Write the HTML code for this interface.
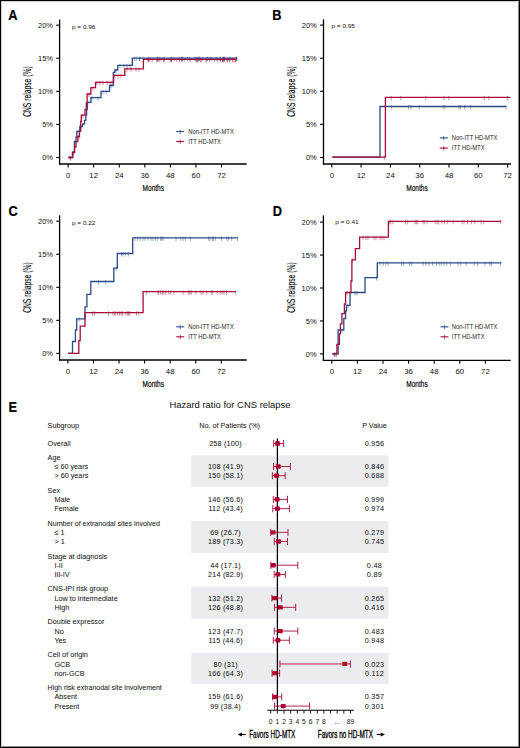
<!DOCTYPE html>
<html><head><meta charset="utf-8"><style>
html,body{margin:0;padding:0;background:#fff;}
body{width:520px;height:748px;overflow:hidden;position:relative;font-family:"Liberation Sans", sans-serif;}
.frame{position:absolute;left:0;top:0;width:518px;height:746px;border:1px solid #000;box-shadow:inset 1px 1px 0 #cfcfcf, inset -1px -1px 0 #8a8a8a;}
svg{position:absolute;left:0;top:0;}
svg text{font-family:"Liberation Sans", sans-serif;}
svg text.e{stroke:#111;stroke-width:0.03px;}
</style></head><body>
<svg width="520" height="748" viewBox="0 0 520 748">
<line x1="59.6" y1="19.6" x2="59.6" y2="164.6" stroke="#000" stroke-width="1.3"/>
<line x1="59" y1="164" x2="246.7" y2="164" stroke="#000" stroke-width="1.3"/>
<line x1="56.2" y1="157.5" x2="59.6" y2="157.5" stroke="#000" stroke-width="1.1"/>
<text x="53" y="160.2" font-size="7.5" text-anchor="end" fill="#111">0%</text>
<line x1="56.2" y1="124.42" x2="59.6" y2="124.42" stroke="#000" stroke-width="1.1"/>
<text x="53" y="127.12" font-size="7.5" text-anchor="end" fill="#111">5%</text>
<line x1="56.2" y1="91.34" x2="59.6" y2="91.34" stroke="#000" stroke-width="1.1"/>
<text x="53" y="94.04" font-size="7.5" text-anchor="end" fill="#111">10%</text>
<line x1="56.2" y1="58.26" x2="59.6" y2="58.26" stroke="#000" stroke-width="1.1"/>
<text x="53" y="60.96" font-size="7.5" text-anchor="end" fill="#111">15%</text>
<line x1="56.2" y1="25.18" x2="59.6" y2="25.18" stroke="#000" stroke-width="1.1"/>
<text x="53" y="27.88" font-size="7.5" text-anchor="end" fill="#111">20%</text>
<line x1="68.1" y1="164" x2="68.1" y2="167.5" stroke="#000" stroke-width="1.1"/>
<text x="68.1" y="177.6" font-size="7.8" text-anchor="middle" fill="#111">0</text>
<line x1="93.67" y1="164" x2="93.67" y2="167.5" stroke="#000" stroke-width="1.1"/>
<text x="93.67" y="177.6" font-size="7.8" text-anchor="middle" fill="#111">12</text>
<line x1="119.24" y1="164" x2="119.24" y2="167.5" stroke="#000" stroke-width="1.1"/>
<text x="119.24" y="177.6" font-size="7.8" text-anchor="middle" fill="#111">24</text>
<line x1="144.81" y1="164" x2="144.81" y2="167.5" stroke="#000" stroke-width="1.1"/>
<text x="144.81" y="177.6" font-size="7.8" text-anchor="middle" fill="#111">36</text>
<line x1="170.38" y1="164" x2="170.38" y2="167.5" stroke="#000" stroke-width="1.1"/>
<text x="170.38" y="177.6" font-size="7.8" text-anchor="middle" fill="#111">48</text>
<line x1="195.95" y1="164" x2="195.95" y2="167.5" stroke="#000" stroke-width="1.1"/>
<text x="195.95" y="177.6" font-size="7.8" text-anchor="middle" fill="#111">60</text>
<line x1="221.52" y1="164" x2="221.52" y2="167.5" stroke="#000" stroke-width="1.1"/>
<text x="221.52" y="177.6" font-size="7.8" text-anchor="middle" fill="#111">72</text>
<text x="153.3" y="190.7" font-size="9.9" text-anchor="middle" textLength="21.4" lengthAdjust="spacingAndGlyphs" stroke="#000" stroke-width="0.2" fill="#000">Months</text>
<text x="0" y="0" font-size="10.4" text-anchor="middle" fill="#000" stroke="#000" stroke-width="0.1" textLength="50.5" lengthAdjust="spacingAndGlyphs" transform="translate(31.2,91.6) rotate(-90)">CNS relapse (%)</text>
<text x="72" y="28.6" font-size="6.1" textLength="23.4" lengthAdjust="spacingAndGlyphs" fill="#111">p = 0.96</text>
<path d="M68.3,157.5H72.4V152.1H74.4V141.7H76V136.9H76.8V131.3H79.8V126.5H82.5V124H84.5V120.4H85.8V115.2H86.6V109.6H87.3V102.3H90.9V97.7H101V91.4H109.5V85.5H113.3V72.3H114.8V70H117.8V65.4H132.3V58.1H237" fill="none" stroke="#2a4b88" stroke-width="1.3"/>
<path d="M68.3,157.5H72.8V152.5H74.6V147H76V141.7H77.8V136.5H79.5V131.3H80.6V121.3H81.3V115.2H85V109.6H86.3V103.2H87.1V94H90.9V87.7H95.5V82.3H113.6V75.4H124.8V68.8H143.4V59.3H236.5" fill="none" stroke="#a90b38" stroke-width="1.3"/>
<path d="M70.5,156V160.5M75,140.2V144.7M78,129.8V134.3M81,125V129.5M88,100.8V105.3M92,96.2V100.7M98,96.2V100.7M103,89.9V94.4M106,89.9V94.4M111,84V88.5M116,68.5V73M120,63.9V68.4M124,63.9V68.4M127,63.9V68.4M130,63.9V68.4M134.37,56.6V61.1M136.23,56.6V61.1M139.66,56.6V61.1M139.82,56.6V61.1M143.14,56.6V61.1M148.66,56.6V61.1M157.37,56.6V61.1M157.75,56.6V61.1M159.97,56.6V61.1M164.33,56.6V61.1M171.48,56.6V61.1M174.08,56.6V61.1M179.24,56.6V61.1M181.91,56.6V61.1M182.17,56.6V61.1M182.54,56.6V61.1M187.41,56.6V61.1M189.6,56.6V61.1M194.47,56.6V61.1M195.81,56.6V61.1M198.07,56.6V61.1M199.03,56.6V61.1M199.46,56.6V61.1M202.83,56.6V61.1M207.27,56.6V61.1M207.76,56.6V61.1M210.09,56.6V61.1M211.86,56.6V61.1M216.29,56.6V61.1M219.99,56.6V61.1M220.1,56.6V61.1M223.01,56.6V61.1M223.28,56.6V61.1M224.4,56.6V61.1M224.4,56.6V61.1M228.79,56.6V61.1M230.3,56.6V61.1M236.55,56.6V61.1M237,56.6V61.1" fill="none" stroke="#2a4b88" stroke-width="0.6" opacity="0.8"/>
<path d="M70,156V160.5M73.5,151V155.5M79,135V139.5M83,113.7V118.2M89,92.5V97M93,86.2V90.7M97,80.8V85.3M100,80.8V85.3M103,80.8V85.3M107,80.8V85.3M110,80.8V85.3M112,80.8V85.3M115,73.9V78.4M118,73.9V78.4M121,73.9V78.4M127,67.3V71.8M131,67.3V71.8M136,67.3V71.8M139,67.3V71.8M148.07,57.8V62.3M148.13,57.8V62.3M149.84,57.8V62.3M152.14,57.8V62.3M156.51,57.8V62.3M157.87,57.8V62.3M159.01,57.8V62.3M163.42,57.8V62.3M163.96,57.8V62.3M170.22,57.8V62.3M171.04,57.8V62.3M171.69,57.8V62.3M176.28,57.8V62.3M179.5,57.8V62.3M181.76,57.8V62.3M184.13,57.8V62.3M190.67,57.8V62.3M196.36,57.8V62.3M196.76,57.8V62.3M197.75,57.8V62.3M197.83,57.8V62.3M200.54,57.8V62.3M201.65,57.8V62.3M205.76,57.8V62.3M206.74,57.8V62.3M209.67,57.8V62.3M214.73,57.8V62.3M217.65,57.8V62.3M220.51,57.8V62.3M222.56,57.8V62.3M222.79,57.8V62.3M223.18,57.8V62.3M224.29,57.8V62.3M227.19,57.8V62.3M227.23,57.8V62.3M229.46,57.8V62.3M232.75,57.8V62.3M232.82,57.8V62.3M235.06,57.8V62.3M235.17,57.8V62.3M236,57.8V62.3" fill="none" stroke="#a90b38" stroke-width="0.6" opacity="0.8"/>
<line x1="176.2" y1="131.5" x2="184.2" y2="131.5" stroke="#2a4b88" stroke-width="1.1"/>
<line x1="180.2" y1="129.5" x2="180.2" y2="134" stroke="#2a4b88" stroke-width="0.7"/>
<text x="188.2" y="133.7" font-size="6.3" textLength="45.6" lengthAdjust="spacingAndGlyphs" fill="#222">Non-ITT HD-MTX</text>
<line x1="176.2" y1="141.5" x2="184.2" y2="141.5" stroke="#a90b38" stroke-width="1.1"/>
<line x1="180.2" y1="139.5" x2="180.2" y2="144" stroke="#a90b38" stroke-width="0.7"/>
<text x="188.2" y="143.7" font-size="6.3" textLength="32.7" lengthAdjust="spacingAndGlyphs" fill="#222">ITT HD-MTX</text>
<text x="0" y="0" font-size="13.9" text-anchor="middle" font-weight="bold" fill="#000" stroke="#000" stroke-width="0.2" transform="translate(12.9,19.5) scale(0.92,1)">A</text>
<line x1="323.5" y1="19.3" x2="323.5" y2="164.6" stroke="#000" stroke-width="1.3"/>
<line x1="322.9" y1="164" x2="511" y2="164" stroke="#000" stroke-width="1.3"/>
<line x1="320.1" y1="157.5" x2="323.5" y2="157.5" stroke="#000" stroke-width="1.1"/>
<text x="316.8" y="160.2" font-size="7.5" text-anchor="end" fill="#111">0%</text>
<line x1="320.1" y1="124.4" x2="323.5" y2="124.4" stroke="#000" stroke-width="1.1"/>
<text x="316.8" y="127.1" font-size="7.5" text-anchor="end" fill="#111">5%</text>
<line x1="320.1" y1="91.3" x2="323.5" y2="91.3" stroke="#000" stroke-width="1.1"/>
<text x="316.8" y="94" font-size="7.5" text-anchor="end" fill="#111">10%</text>
<line x1="320.1" y1="58.2" x2="323.5" y2="58.2" stroke="#000" stroke-width="1.1"/>
<text x="316.8" y="60.9" font-size="7.5" text-anchor="end" fill="#111">15%</text>
<line x1="320.1" y1="25.1" x2="323.5" y2="25.1" stroke="#000" stroke-width="1.1"/>
<text x="316.8" y="27.8" font-size="7.5" text-anchor="end" fill="#111">20%</text>
<line x1="331.8" y1="164" x2="331.8" y2="167.5" stroke="#000" stroke-width="1.1"/>
<text x="331.8" y="177.6" font-size="7.8" text-anchor="middle" fill="#111">0</text>
<line x1="361.1" y1="164" x2="361.1" y2="167.5" stroke="#000" stroke-width="1.1"/>
<text x="361.1" y="177.6" font-size="7.8" text-anchor="middle" fill="#111">12</text>
<line x1="390.4" y1="164" x2="390.4" y2="167.5" stroke="#000" stroke-width="1.1"/>
<text x="390.4" y="177.6" font-size="7.8" text-anchor="middle" fill="#111">24</text>
<line x1="419.7" y1="164" x2="419.7" y2="167.5" stroke="#000" stroke-width="1.1"/>
<text x="419.7" y="177.6" font-size="7.8" text-anchor="middle" fill="#111">36</text>
<line x1="449" y1="164" x2="449" y2="167.5" stroke="#000" stroke-width="1.1"/>
<text x="449" y="177.6" font-size="7.8" text-anchor="middle" fill="#111">48</text>
<line x1="478.3" y1="164" x2="478.3" y2="167.5" stroke="#000" stroke-width="1.1"/>
<text x="478.3" y="177.6" font-size="7.8" text-anchor="middle" fill="#111">60</text>
<line x1="507.6" y1="164" x2="507.6" y2="167.5" stroke="#000" stroke-width="1.1"/>
<text x="507.6" y="177.6" font-size="7.8" text-anchor="middle" fill="#111">72</text>
<text x="417" y="190.7" font-size="9.9" text-anchor="middle" textLength="21.4" lengthAdjust="spacingAndGlyphs" stroke="#000" stroke-width="0.2" fill="#000">Months</text>
<text x="0" y="0" font-size="10.4" text-anchor="middle" fill="#000" stroke="#000" stroke-width="0.1" textLength="50.5" lengthAdjust="spacingAndGlyphs" transform="translate(295.1,91.5) rotate(-90)">CNS relapse (%)</text>
<text x="331.5" y="27.9" font-size="6.1" textLength="23.4" lengthAdjust="spacingAndGlyphs" fill="#111">p = 0.95</text>
<path d="M332.3,157.2H380V106.5H506.2" fill="none" stroke="#2a4b88" stroke-width="1.3"/>
<path d="M332.3,157.2H385.4V97.4H510.4" fill="none" stroke="#a90b38" stroke-width="1.3"/>
<path d="M391.2,105V109.5M408.6,105V109.5M410.9,105V109.5M419.2,105V109.5M443.1,105V109.5M445,105V109.5M459,105V109.5M460.4,105V109.5M464.6,105V109.5M470.4,105V109.5M506.2,105V109.5" fill="none" stroke="#2a4b88" stroke-width="0.6" opacity="0.8"/>
<path d="M384.3,155.7V160.2M391.2,95.9V100.4M400.8,95.9V100.4M425.6,95.9V100.4M444,95.9V100.4M448.8,95.9V100.4M484.4,95.9V100.4M488.8,95.9V100.4M507.5,95.9V100.4" fill="none" stroke="#a90b38" stroke-width="0.6" opacity="0.8"/>
<line x1="439.8" y1="137.9" x2="447.8" y2="137.9" stroke="#2a4b88" stroke-width="1.1"/>
<line x1="443.8" y1="135.9" x2="443.8" y2="140.4" stroke="#2a4b88" stroke-width="0.7"/>
<text x="451.8" y="140.1" font-size="6.3" textLength="45.6" lengthAdjust="spacingAndGlyphs" fill="#222">Non-ITT HD-MTX</text>
<line x1="439.8" y1="148.1" x2="447.8" y2="148.1" stroke="#a90b38" stroke-width="1.1"/>
<line x1="443.8" y1="146.1" x2="443.8" y2="150.6" stroke="#a90b38" stroke-width="0.7"/>
<text x="451.8" y="150.3" font-size="6.3" textLength="32.7" lengthAdjust="spacingAndGlyphs" fill="#222">ITT HD-MTX</text>
<text x="0" y="0" font-size="13.9" text-anchor="middle" font-weight="bold" fill="#000" stroke="#000" stroke-width="0.2" transform="translate(276.9,19.5) scale(0.92,1)">B</text>
<line x1="59.6" y1="215.3" x2="59.6" y2="360.6" stroke="#000" stroke-width="1.3"/>
<line x1="59" y1="360" x2="246.7" y2="360" stroke="#000" stroke-width="1.3"/>
<line x1="56.2" y1="353.4" x2="59.6" y2="353.4" stroke="#000" stroke-width="1.1"/>
<text x="53" y="356.1" font-size="7.5" text-anchor="end" fill="#111">0%</text>
<line x1="56.2" y1="320.35" x2="59.6" y2="320.35" stroke="#000" stroke-width="1.1"/>
<text x="53" y="323.05" font-size="7.5" text-anchor="end" fill="#111">5%</text>
<line x1="56.2" y1="287.3" x2="59.6" y2="287.3" stroke="#000" stroke-width="1.1"/>
<text x="53" y="290" font-size="7.5" text-anchor="end" fill="#111">10%</text>
<line x1="56.2" y1="254.25" x2="59.6" y2="254.25" stroke="#000" stroke-width="1.1"/>
<text x="53" y="256.95" font-size="7.5" text-anchor="end" fill="#111">15%</text>
<line x1="56.2" y1="221.2" x2="59.6" y2="221.2" stroke="#000" stroke-width="1.1"/>
<text x="53" y="223.9" font-size="7.5" text-anchor="end" fill="#111">20%</text>
<line x1="67.9" y1="360" x2="67.9" y2="363.5" stroke="#000" stroke-width="1.1"/>
<text x="67.9" y="373.6" font-size="7.8" text-anchor="middle" fill="#111">0</text>
<line x1="93.47" y1="360" x2="93.47" y2="363.5" stroke="#000" stroke-width="1.1"/>
<text x="93.47" y="373.6" font-size="7.8" text-anchor="middle" fill="#111">12</text>
<line x1="119.04" y1="360" x2="119.04" y2="363.5" stroke="#000" stroke-width="1.1"/>
<text x="119.04" y="373.6" font-size="7.8" text-anchor="middle" fill="#111">24</text>
<line x1="144.61" y1="360" x2="144.61" y2="363.5" stroke="#000" stroke-width="1.1"/>
<text x="144.61" y="373.6" font-size="7.8" text-anchor="middle" fill="#111">36</text>
<line x1="170.18" y1="360" x2="170.18" y2="363.5" stroke="#000" stroke-width="1.1"/>
<text x="170.18" y="373.6" font-size="7.8" text-anchor="middle" fill="#111">48</text>
<line x1="195.75" y1="360" x2="195.75" y2="363.5" stroke="#000" stroke-width="1.1"/>
<text x="195.75" y="373.6" font-size="7.8" text-anchor="middle" fill="#111">60</text>
<line x1="221.32" y1="360" x2="221.32" y2="363.5" stroke="#000" stroke-width="1.1"/>
<text x="221.32" y="373.6" font-size="7.8" text-anchor="middle" fill="#111">72</text>
<text x="153.3" y="386.7" font-size="9.9" text-anchor="middle" textLength="21.4" lengthAdjust="spacingAndGlyphs" stroke="#000" stroke-width="0.2" fill="#000">Months</text>
<text x="0" y="0" font-size="10.4" text-anchor="middle" fill="#000" stroke="#000" stroke-width="0.1" textLength="50.5" lengthAdjust="spacingAndGlyphs" transform="translate(31.2,287.6) rotate(-90)">CNS relapse (%)</text>
<text x="72" y="224.7" font-size="6.1" textLength="23.4" lengthAdjust="spacingAndGlyphs" fill="#111">p = 0.22</text>
<path d="M68.1,353.4H72.5V341.5H75.4V330H76.7V318.8H85V306.9H86.9V294.4H90.8V281.5H113.8V268.1H117.3V253.5H132.7V237.9H237.5" fill="none" stroke="#2a4b88" stroke-width="1.3"/>
<path d="M68.1,353.4H78.8V340.6H80.2V326.2H85V312.7H143.1V291.7H235.6" fill="none" stroke="#a90b38" stroke-width="1.3"/>
<path d="M79.2,317.3V321.8M98.5,280V284.5M105.6,280V284.5M116.3,266.6V271.1M121.5,252V256.5M123,252V256.5M125.4,252V256.5M128.3,252V256.5M135,236.4V240.9M137.5,236.4V240.9M140,236.4V240.9M143,236.4V240.9M145,236.4V240.9M148,236.4V240.9M151,236.4V240.9M152.9,236.4V240.9M155.4,236.4V240.9M157.3,236.4V240.9M160.6,236.4V240.9M161.9,236.4V240.9M163.1,236.4V240.9M176,236.4V240.9M180.8,236.4V240.9M183.1,236.4V240.9M185.2,236.4V240.9M190.4,236.4V240.9M208.7,236.4V240.9M210,236.4V240.9M212.5,236.4V240.9M213.5,236.4V240.9M215.4,236.4V240.9M221.5,236.4V240.9M226.9,236.4V240.9M228.5,236.4V240.9M231.7,236.4V240.9M237.5,236.4V240.9" fill="none" stroke="#2a4b88" stroke-width="0.6" opacity="0.8"/>
<path d="M92.7,311.2V315.7M94.6,311.2V315.7M108.5,311.2V315.7M112.9,311.2V315.7M114.4,311.2V315.7M115.8,311.2V315.7M117.7,311.2V315.7M119.6,311.2V315.7M121.2,311.2V315.7M122.5,311.2V315.7M126,311.2V315.7M127.7,311.2V315.7M128.8,311.2V315.7M129.8,311.2V315.7M136.5,311.2V315.7M138.8,311.2V315.7M146.5,290.2V294.7M158,290.2V294.7M158.7,290.2V294.7M160.6,290.2V294.7M162.5,290.2V294.7M163.8,290.2V294.7M165.8,290.2V294.7M168.8,290.2V294.7M170.8,290.2V294.7M174,290.2V294.7M183.1,290.2V294.7M188.5,290.2V294.7M189.8,290.2V294.7M191.3,290.2V294.7M195.8,290.2V294.7M201,290.2V294.7M202.9,290.2V294.7M206.7,290.2V294.7M211.2,290.2V294.7M212.5,290.2V294.7M217.3,290.2V294.7M220.2,290.2V294.7M222.1,290.2V294.7M224,290.2V294.7M226.5,290.2V294.7M235.6,290.2V294.7" fill="none" stroke="#a90b38" stroke-width="0.6" opacity="0.8"/>
<line x1="176.2" y1="326.8" x2="184.2" y2="326.8" stroke="#2a4b88" stroke-width="1.1"/>
<line x1="180.2" y1="324.8" x2="180.2" y2="329.3" stroke="#2a4b88" stroke-width="0.7"/>
<text x="188.2" y="329" font-size="6.3" textLength="45.6" lengthAdjust="spacingAndGlyphs" fill="#222">Non-ITT HD-MTX</text>
<line x1="176.2" y1="336.8" x2="184.2" y2="336.8" stroke="#a90b38" stroke-width="1.1"/>
<line x1="180.2" y1="334.8" x2="180.2" y2="339.3" stroke="#a90b38" stroke-width="0.7"/>
<text x="188.2" y="339" font-size="6.3" textLength="32.7" lengthAdjust="spacingAndGlyphs" fill="#222">ITT HD-MTX</text>
<text x="0" y="0" font-size="13.9" text-anchor="middle" font-weight="bold" fill="#000" stroke="#000" stroke-width="0.2" transform="translate(13,215.6) scale(0.92,1)">C</text>
<line x1="323.4" y1="215.4" x2="323.4" y2="360.9" stroke="#000" stroke-width="1.3"/>
<line x1="322.8" y1="360.3" x2="510.8" y2="360.3" stroke="#000" stroke-width="1.3"/>
<line x1="320" y1="353.9" x2="323.4" y2="353.9" stroke="#000" stroke-width="1.1"/>
<text x="316.6" y="356.6" font-size="7.5" text-anchor="end" fill="#111">0%</text>
<line x1="320" y1="320.95" x2="323.4" y2="320.95" stroke="#000" stroke-width="1.1"/>
<text x="316.6" y="323.65" font-size="7.5" text-anchor="end" fill="#111">5%</text>
<line x1="320" y1="288" x2="323.4" y2="288" stroke="#000" stroke-width="1.1"/>
<text x="316.6" y="290.7" font-size="7.5" text-anchor="end" fill="#111">10%</text>
<line x1="320" y1="255.05" x2="323.4" y2="255.05" stroke="#000" stroke-width="1.1"/>
<text x="316.6" y="257.75" font-size="7.5" text-anchor="end" fill="#111">15%</text>
<line x1="320" y1="222.1" x2="323.4" y2="222.1" stroke="#000" stroke-width="1.1"/>
<text x="316.6" y="224.8" font-size="7.5" text-anchor="end" fill="#111">20%</text>
<line x1="331.8" y1="360.3" x2="331.8" y2="363.8" stroke="#000" stroke-width="1.1"/>
<text x="331.8" y="373.9" font-size="7.8" text-anchor="middle" fill="#111">0</text>
<line x1="357.4" y1="360.3" x2="357.4" y2="363.8" stroke="#000" stroke-width="1.1"/>
<text x="357.4" y="373.9" font-size="7.8" text-anchor="middle" fill="#111">12</text>
<line x1="383" y1="360.3" x2="383" y2="363.8" stroke="#000" stroke-width="1.1"/>
<text x="383" y="373.9" font-size="7.8" text-anchor="middle" fill="#111">24</text>
<line x1="408.6" y1="360.3" x2="408.6" y2="363.8" stroke="#000" stroke-width="1.1"/>
<text x="408.6" y="373.9" font-size="7.8" text-anchor="middle" fill="#111">36</text>
<line x1="434.2" y1="360.3" x2="434.2" y2="363.8" stroke="#000" stroke-width="1.1"/>
<text x="434.2" y="373.9" font-size="7.8" text-anchor="middle" fill="#111">48</text>
<line x1="459.8" y1="360.3" x2="459.8" y2="363.8" stroke="#000" stroke-width="1.1"/>
<text x="459.8" y="373.9" font-size="7.8" text-anchor="middle" fill="#111">60</text>
<line x1="485.4" y1="360.3" x2="485.4" y2="363.8" stroke="#000" stroke-width="1.1"/>
<text x="485.4" y="373.9" font-size="7.8" text-anchor="middle" fill="#111">72</text>
<text x="417" y="387" font-size="9.9" text-anchor="middle" textLength="21.4" lengthAdjust="spacingAndGlyphs" stroke="#000" stroke-width="0.2" fill="#000">Months</text>
<text x="0" y="0" font-size="10.4" text-anchor="middle" fill="#000" stroke="#000" stroke-width="0.1" textLength="50.5" lengthAdjust="spacingAndGlyphs" transform="translate(295.1,287.6) rotate(-90)">CNS relapse (%)</text>
<text x="335.2" y="223.5" font-size="6.1" textLength="23.4" lengthAdjust="spacingAndGlyphs" fill="#111">p = 0.41</text>
<path d="M332.3,353.9H338.1V330H343.8V318.5H345.6V310.8H346.5V305.4H350V292.5H365V277.7H377.3V262.9H501.2" fill="none" stroke="#2a4b88" stroke-width="1.3"/>
<path d="M332.3,353.9H336.9V344.4H339.4V333.8H340.4V323.8H341.9V313.7H344.4V304H345.6V292.5H351V281H351.9V259.8H355.4V248.7H359.6V237.2H388.4V221.3H501.2" fill="none" stroke="#a90b38" stroke-width="1.3"/>
<path d="M334.5,352.4V356.9M336.2,352.4V356.9M342,328.5V333M348,303.9V308.4M355,291V295.5M357,291V295.5M376.5,276.2V280.7M380,261.4V265.9M383.2,261.4V265.9M385.9,261.4V265.9M388.1,261.4V265.9M401.5,261.4V265.9M403.7,261.4V265.9M409.6,261.4V265.9M411.8,261.4V265.9M423.1,261.4V265.9M425.8,261.4V265.9M429,261.4V265.9M432.5,261.4V265.9M436.5,261.4V265.9M439.2,261.4V265.9M441.4,261.4V265.9M444.1,261.4V265.9M446.8,261.4V265.9M450.5,261.4V265.9M458.1,261.4V265.9M460.8,261.4V265.9M466.2,261.4V265.9M474.2,261.4V265.9M477.5,261.4V265.9M485,261.4V265.9M489.9,261.4V265.9M491.7,261.4V265.9M500.6,261.4V265.9" fill="none" stroke="#2a4b88" stroke-width="0.6" opacity="0.8"/>
<path d="M334,352.4V356.9M336,352.4V356.9M347,291V295.5M352.5,258.3V262.8M363,235.7V240.2M366,235.7V240.2M368,235.7V240.2M374,235.7V240.2M376,235.7V240.2M380,235.7V240.2M382,235.7V240.2M384,235.7V240.2M389.4,219.8V224.3M390.8,219.8V224.3M392.9,219.8V224.3M405.6,219.8V224.3M407.7,219.8V224.3M415,219.8V224.3M416.3,219.8V224.3M417.7,219.8V224.3M423.1,219.8V224.3M424.4,219.8V224.3M427.1,219.8V224.3M435.2,219.8V224.3M437.1,219.8V224.3M438.7,219.8V224.3M441.9,219.8V224.3M444.6,219.8V224.3M447.3,219.8V224.3M453.2,219.8V224.3M462.1,219.8V224.3M464,219.8V224.3M467.5,219.8V224.3M471.5,219.8V224.3M474.8,219.8V224.3M481,219.8V224.3M483.7,219.8V224.3M500.6,219.8V224.3" fill="none" stroke="#a90b38" stroke-width="0.6" opacity="0.8"/>
<line x1="440.5" y1="326.8" x2="448.5" y2="326.8" stroke="#2a4b88" stroke-width="1.1"/>
<line x1="444.5" y1="324.8" x2="444.5" y2="329.3" stroke="#2a4b88" stroke-width="0.7"/>
<text x="451.8" y="329" font-size="6.3" textLength="45.6" lengthAdjust="spacingAndGlyphs" fill="#222">Non-ITT HD-MTX</text>
<line x1="440.5" y1="336.8" x2="448.5" y2="336.8" stroke="#a90b38" stroke-width="1.1"/>
<line x1="444.5" y1="334.8" x2="444.5" y2="339.3" stroke="#a90b38" stroke-width="0.7"/>
<text x="451.8" y="339" font-size="6.3" textLength="32.7" lengthAdjust="spacingAndGlyphs" fill="#222">ITT HD-MTX</text>
<text x="0" y="0" font-size="13.9" text-anchor="middle" font-weight="bold" fill="#000" stroke="#000" stroke-width="0.2" transform="translate(277.3,215.6) scale(0.92,1)">D</text>
<rect x="191.2" y="455.5" width="197.3" height="31.2" fill="#ececef"/>
<rect x="191.2" y="521.2" width="197.3" height="31.7" fill="#ececef"/>
<rect x="191.2" y="587" width="197.3" height="31.5" fill="#ececef"/>
<rect x="191.2" y="652.9" width="197.3" height="31.2" fill="#ececef"/>
<text x="0" y="0" font-size="13.9" text-anchor="middle" font-weight="bold" fill="#000" stroke="#000" stroke-width="0.2" transform="translate(12.85,412.2) scale(0.92,1)">E</text>
<text x="169.4" y="408.1" font-size="9.7" textLength="121.2" lengthAdjust="spacingAndGlyphs" fill="#111">Hazard ratio for CNS relapse</text>
<text x="47.6" y="428.1" font-size="7.25" fill="#111" class="e">Subgroup</text>
<text x="229.6" y="427.6" font-size="7.25" text-anchor="middle" fill="#111" class="e">No. of Patients (%)</text>
<text x="374.5" y="427.7" font-size="7.25" text-anchor="middle" fill="#111" class="e">P Value</text>
<line x1="277.4" y1="438.6" x2="277.4" y2="710.3" stroke="#000" stroke-width="1.25"/>
<text x="47.6" y="446" font-size="7.25" fill="#111" class="e">Overall</text>
<text x="225.5" y="445.8" font-size="7.25" text-anchor="middle" fill="#111" class="e" letter-spacing="0.19">258 (100)</text>
<text x="374.5" y="445.8" font-size="7.25" text-anchor="middle" fill="#111" class="e" letter-spacing="0.3">0.956</text>
<path d="M273.7,443.5H283.6M273.7,439.9V447.1M283.6,439.9V447.1" stroke="#a90b38" stroke-width="0.9" fill="none"/>
<rect x="275.15" y="441.35" width="4.9" height="4.3" rx="0.6" fill="#ae0330"/>
<text x="47.6" y="459.8" font-size="7.25" fill="#111" class="e">Age</text>
<text x="54.4" y="469.1" font-size="7.25" fill="#111" class="e">≤ 60 years</text>
<text x="225.6" y="469.1" font-size="7.25" text-anchor="middle" fill="#111" class="e" letter-spacing="0.19">108 (41.9)</text>
<text x="374.5" y="469.1" font-size="7.25" text-anchor="middle" fill="#111" class="e" letter-spacing="0.3">0.846</text>
<path d="M273.5,466.5H290.4M273.5,462.9V470.1M290.4,462.9V470.1" stroke="#a90b38" stroke-width="0.9" fill="none"/>
<rect x="275.75" y="464.35" width="4.9" height="4.3" rx="0.6" fill="#ae0330"/>
<text x="54.4" y="478.3" font-size="7.25" fill="#111" class="e">&gt; 60 years</text>
<text x="225.6" y="478.3" font-size="7.25" text-anchor="middle" fill="#111" class="e" letter-spacing="0.19">150 (58.1)</text>
<text x="374.5" y="478.3" font-size="7.25" text-anchor="middle" fill="#111" class="e" letter-spacing="0.3">0.688</text>
<path d="M272.4,475.7H285.1M272.4,472.1V479.3M285.1,472.1V479.3" stroke="#a90b38" stroke-width="0.9" fill="none"/>
<rect x="274.15" y="473.55" width="4.9" height="4.3" rx="0.6" fill="#ae0330"/>
<text x="47.6" y="492.71" font-size="7.25" fill="#111" class="e">Sex</text>
<text x="54.4" y="502.01" font-size="7.25" fill="#111" class="e">Male</text>
<text x="225.6" y="502.01" font-size="7.25" text-anchor="middle" fill="#111" class="e" letter-spacing="0.19">146 (56.6)</text>
<text x="374.5" y="502.01" font-size="7.25" text-anchor="middle" fill="#111" class="e" letter-spacing="0.3">0.999</text>
<path d="M273.3,499.41H287.5M273.3,495.81V503.01M287.5,495.81V503.01" stroke="#a90b38" stroke-width="0.9" fill="none"/>
<rect x="274.65" y="497.26" width="4.9" height="4.3" rx="0.6" fill="#ae0330"/>
<text x="54.4" y="511.21" font-size="7.25" fill="#111" class="e">Female</text>
<text x="225.6" y="511.21" font-size="7.25" text-anchor="middle" fill="#111" class="e" letter-spacing="0.19">112 (43.4)</text>
<text x="374.5" y="511.21" font-size="7.25" text-anchor="middle" fill="#111" class="e" letter-spacing="0.3">0.974</text>
<path d="M272.8,508.61H289.4M272.8,505.01V512.21M289.4,505.01V512.21" stroke="#a90b38" stroke-width="0.9" fill="none"/>
<rect x="274.95" y="506.46" width="4.9" height="4.3" rx="0.6" fill="#ae0330"/>
<text x="47.6" y="525.62" font-size="7.25" textLength="112.4" lengthAdjust="spacingAndGlyphs" fill="#111" class="e">Number of extranodal sites involved</text>
<text x="54.4" y="534.92" font-size="7.25" fill="#111" class="e">≤ 1</text>
<text x="225.6" y="534.92" font-size="7.25" text-anchor="middle" fill="#111" class="e" letter-spacing="0.19">69 (26.7)</text>
<text x="374.5" y="534.92" font-size="7.25" text-anchor="middle" fill="#111" class="e" letter-spacing="0.3">0.279</text>
<path d="M270.7,532.32H288M270.7,528.72V535.92M288,528.72V535.92" stroke="#a90b38" stroke-width="0.9" fill="none"/>
<rect x="270.65" y="530.17" width="4.9" height="4.3" rx="0.6" fill="#ae0330"/>
<text x="54.4" y="544.12" font-size="7.25" fill="#111" class="e">&gt; 1</text>
<text x="225.6" y="544.12" font-size="7.25" text-anchor="middle" fill="#111" class="e" letter-spacing="0.19">189 (73.3)</text>
<text x="374.5" y="544.12" font-size="7.25" text-anchor="middle" fill="#111" class="e" letter-spacing="0.3">0.745</text>
<path d="M274.3,541.52H287.5M274.3,537.92V545.12M287.5,537.92V545.12" stroke="#a90b38" stroke-width="0.9" fill="none"/>
<rect x="276.05" y="539.37" width="4.9" height="4.3" rx="0.6" fill="#ae0330"/>
<text x="47.6" y="558.53" font-size="7.25" fill="#111" class="e">Stage at diagnosis</text>
<text x="54.4" y="567.83" font-size="7.25" fill="#111" class="e">I-II</text>
<text x="225.6" y="567.83" font-size="7.25" text-anchor="middle" fill="#111" class="e" letter-spacing="0.19">44 (17.1)</text>
<text x="374.5" y="567.83" font-size="7.25" text-anchor="middle" fill="#111" class="e" letter-spacing="0.3">0.48</text>
<path d="M270.8,565.23H297.8M270.8,561.63V568.83M297.8,561.63V568.83" stroke="#a90b38" stroke-width="0.9" fill="none"/>
<rect x="270.85" y="563.08" width="4.9" height="4.3" rx="0.6" fill="#ae0330"/>
<text x="54.4" y="577.03" font-size="7.25" fill="#111" class="e">III-IV</text>
<text x="225.6" y="577.03" font-size="7.25" text-anchor="middle" fill="#111" class="e" letter-spacing="0.19">214 (82.9)</text>
<text x="374.5" y="577.03" font-size="7.25" text-anchor="middle" fill="#111" class="e" letter-spacing="0.3">0.89</text>
<path d="M274.2,574.43H285.4M274.2,570.83V578.03M285.4,570.83V578.03" stroke="#a90b38" stroke-width="0.9" fill="none"/>
<rect x="275.45" y="572.28" width="4.9" height="4.3" rx="0.6" fill="#ae0330"/>
<text x="47.6" y="591.44" font-size="7.25" fill="#111" class="e">CNS-IPI risk group</text>
<text x="54.4" y="600.74" font-size="7.25" fill="#111" class="e">Low to intermediate</text>
<text x="225.6" y="600.74" font-size="7.25" text-anchor="middle" fill="#111" class="e" letter-spacing="0.19">132 (51.2)</text>
<text x="374.5" y="600.74" font-size="7.25" text-anchor="middle" fill="#111" class="e" letter-spacing="0.3">0.265</text>
<path d="M271.9,598.14H281.5M271.9,594.54V601.74M281.5,594.54V601.74" stroke="#a90b38" stroke-width="0.9" fill="none"/>
<rect x="272.05" y="595.99" width="4.9" height="4.3" rx="0.6" fill="#ae0330"/>
<text x="54.4" y="609.94" font-size="7.25" fill="#111" class="e">High</text>
<text x="225.6" y="609.94" font-size="7.25" text-anchor="middle" fill="#111" class="e" letter-spacing="0.19">126 (48.8)</text>
<text x="374.5" y="609.94" font-size="7.25" text-anchor="middle" fill="#111" class="e" letter-spacing="0.3">0.416</text>
<path d="M274.5,607.34H295.7M274.5,603.74V610.94M295.7,603.74V610.94" stroke="#a90b38" stroke-width="0.9" fill="none"/>
<rect x="277.85" y="605.19" width="4.9" height="4.3" rx="0.6" fill="#ae0330"/>
<text x="47.6" y="624.35" font-size="7.25" fill="#111" class="e">Double expressor</text>
<text x="54.4" y="633.65" font-size="7.25" fill="#111" class="e">No</text>
<text x="225.6" y="633.65" font-size="7.25" text-anchor="middle" fill="#111" class="e" letter-spacing="0.19">123 (47.7)</text>
<text x="374.5" y="633.65" font-size="7.25" text-anchor="middle" fill="#111" class="e" letter-spacing="0.3">0.483</text>
<path d="M274.3,631.05H297.8M274.3,627.45V634.65M297.8,627.45V634.65" stroke="#a90b38" stroke-width="0.9" fill="none"/>
<rect x="277.85" y="628.9" width="4.9" height="4.3" rx="0.6" fill="#ae0330"/>
<text x="54.4" y="642.85" font-size="7.25" fill="#111" class="e">Yes</text>
<text x="225.6" y="642.85" font-size="7.25" text-anchor="middle" fill="#111" class="e" letter-spacing="0.19">115 (44.6)</text>
<text x="374.5" y="642.85" font-size="7.25" text-anchor="middle" fill="#111" class="e" letter-spacing="0.3">0.948</text>
<path d="M273.3,640.25H289.4M273.3,636.65V643.85M289.4,636.65V643.85" stroke="#a90b38" stroke-width="0.9" fill="none"/>
<rect x="275.45" y="638.1" width="4.9" height="4.3" rx="0.6" fill="#ae0330"/>
<text x="47.6" y="657.26" font-size="7.25" fill="#111" class="e">Cell of origin</text>
<text x="54.4" y="666.56" font-size="7.25" fill="#111" class="e">GCB</text>
<text x="225.6" y="666.56" font-size="7.25" text-anchor="middle" fill="#111" class="e" letter-spacing="0.19">80 (31)</text>
<text x="374.5" y="666.56" font-size="7.25" text-anchor="middle" fill="#111" class="e" letter-spacing="0.3">0.023</text>
<path d="M279.9,663.96H350.4M279.9,660.36V667.56M350.4,660.36V667.56" stroke="#a90b38" stroke-width="0.9" fill="none"/>
<rect x="342.35" y="661.81" width="4.9" height="4.3" rx="0.6" fill="#ae0330"/>
<text x="54.4" y="675.76" font-size="7.25" fill="#111" class="e">non-GCB</text>
<text x="225.6" y="675.76" font-size="7.25" text-anchor="middle" fill="#111" class="e" letter-spacing="0.19">166 (64.3)</text>
<text x="374.5" y="675.76" font-size="7.25" text-anchor="middle" fill="#111" class="e" letter-spacing="0.3">0.112</text>
<path d="M272.1,673.16H279.6M272.1,669.56V676.76M279.6,669.56V676.76" stroke="#a90b38" stroke-width="0.9" fill="none"/>
<rect x="272.35" y="671.01" width="4.9" height="4.3" rx="0.6" fill="#ae0330"/>
<text x="47.6" y="690.17" font-size="7.25" textLength="114.2" lengthAdjust="spacingAndGlyphs" fill="#111" class="e">High risk extranodal site involvement</text>
<text x="54.4" y="699.47" font-size="7.25" fill="#111" class="e">Absent</text>
<text x="225.6" y="699.47" font-size="7.25" text-anchor="middle" fill="#111" class="e" letter-spacing="0.19">159 (61.6)</text>
<text x="374.5" y="699.47" font-size="7.25" text-anchor="middle" fill="#111" class="e" letter-spacing="0.3">0.357</text>
<path d="M272.6,696.87H281.7M272.6,693.27V700.47M281.7,693.27V700.47" stroke="#a90b38" stroke-width="0.9" fill="none"/>
<rect x="272.55" y="694.72" width="4.9" height="4.3" rx="0.6" fill="#ae0330"/>
<text x="54.4" y="708.67" font-size="7.25" fill="#111" class="e">Present</text>
<text x="225.6" y="708.67" font-size="7.25" text-anchor="middle" fill="#111" class="e" letter-spacing="0.19">99 (38.4)</text>
<text x="374.5" y="708.67" font-size="7.25" text-anchor="middle" fill="#111" class="e" letter-spacing="0.3">0.301</text>
<path d="M274.5,706.07H309.6M274.5,702.47V709.67M309.6,702.47V709.67" stroke="#a90b38" stroke-width="0.9" fill="none"/>
<rect x="280.75" y="703.92" width="4.9" height="4.3" rx="0.6" fill="#ae0330"/>
<line x1="267.3" y1="710.3" x2="353.9" y2="710.3" stroke="#000" stroke-width="1.1"/>
<line x1="270.7" y1="710.3" x2="270.7" y2="713.6" stroke="#000" stroke-width="0.9"/>
<text x="270.7" y="723.9" font-size="6.7" text-anchor="middle" fill="#111">0</text>
<line x1="277.35" y1="710.3" x2="277.35" y2="713.6" stroke="#000" stroke-width="0.9"/>
<text x="277.35" y="723.9" font-size="6.7" text-anchor="middle" fill="#111">1</text>
<line x1="284" y1="710.3" x2="284" y2="713.6" stroke="#000" stroke-width="0.9"/>
<text x="284" y="723.9" font-size="6.7" text-anchor="middle" fill="#111">2</text>
<line x1="290.65" y1="710.3" x2="290.65" y2="713.6" stroke="#000" stroke-width="0.9"/>
<text x="290.65" y="723.9" font-size="6.7" text-anchor="middle" fill="#111">3</text>
<line x1="297.3" y1="710.3" x2="297.3" y2="713.6" stroke="#000" stroke-width="0.9"/>
<text x="297.3" y="723.9" font-size="6.7" text-anchor="middle" fill="#111">4</text>
<line x1="303.95" y1="710.3" x2="303.95" y2="713.6" stroke="#000" stroke-width="0.9"/>
<text x="303.95" y="723.9" font-size="6.7" text-anchor="middle" fill="#111">5</text>
<line x1="310.6" y1="710.3" x2="310.6" y2="713.6" stroke="#000" stroke-width="0.9"/>
<text x="310.6" y="723.9" font-size="6.7" text-anchor="middle" fill="#111">6</text>
<line x1="317.25" y1="710.3" x2="317.25" y2="713.6" stroke="#000" stroke-width="0.9"/>
<text x="317.25" y="723.9" font-size="6.7" text-anchor="middle" fill="#111">7</text>
<line x1="323.9" y1="710.3" x2="323.9" y2="713.6" stroke="#000" stroke-width="0.9"/>
<text x="323.9" y="723.9" font-size="6.7" text-anchor="middle" fill="#111">8</text>
<line x1="330.55" y1="710.3" x2="330.55" y2="713.6" stroke="#000" stroke-width="0.9"/>
<line x1="337.2" y1="710.3" x2="337.2" y2="713.6" stroke="#000" stroke-width="0.9"/>
<text x="337.2" y="723.9" font-size="6.7" text-anchor="middle" fill="#111">...</text>
<line x1="343.85" y1="710.3" x2="343.85" y2="713.6" stroke="#000" stroke-width="0.9"/>
<line x1="350.5" y1="710.3" x2="350.5" y2="713.6" stroke="#000" stroke-width="0.9"/>
<text x="350.5" y="723.9" font-size="6.7" text-anchor="middle" fill="#111">89</text>
<path d="M245.6,734.5H240.5" stroke="#000" stroke-width="1.1" fill="none"/><path d="M237.6,734.5L241.9,732.5L241.9,736.5Z" fill="#000"/>
<text x="249.2" y="738.2" font-size="10" textLength="46.2" lengthAdjust="spacingAndGlyphs" stroke="#000" stroke-width="0.3" fill="#000">Favors HD-MTX</text>
<text x="317.8" y="738.2" font-size="10" textLength="55.1" lengthAdjust="spacingAndGlyphs" stroke="#000" stroke-width="0.35" fill="#000">Favors no HD-MTX</text>
<path d="M376.7,734.5H382" stroke="#000" stroke-width="1.1" fill="none"/><path d="M385,734.5L380.7,732.5L380.7,736.5Z" fill="#000"/>
</svg>
<div class="frame"></div>
</body></html>
